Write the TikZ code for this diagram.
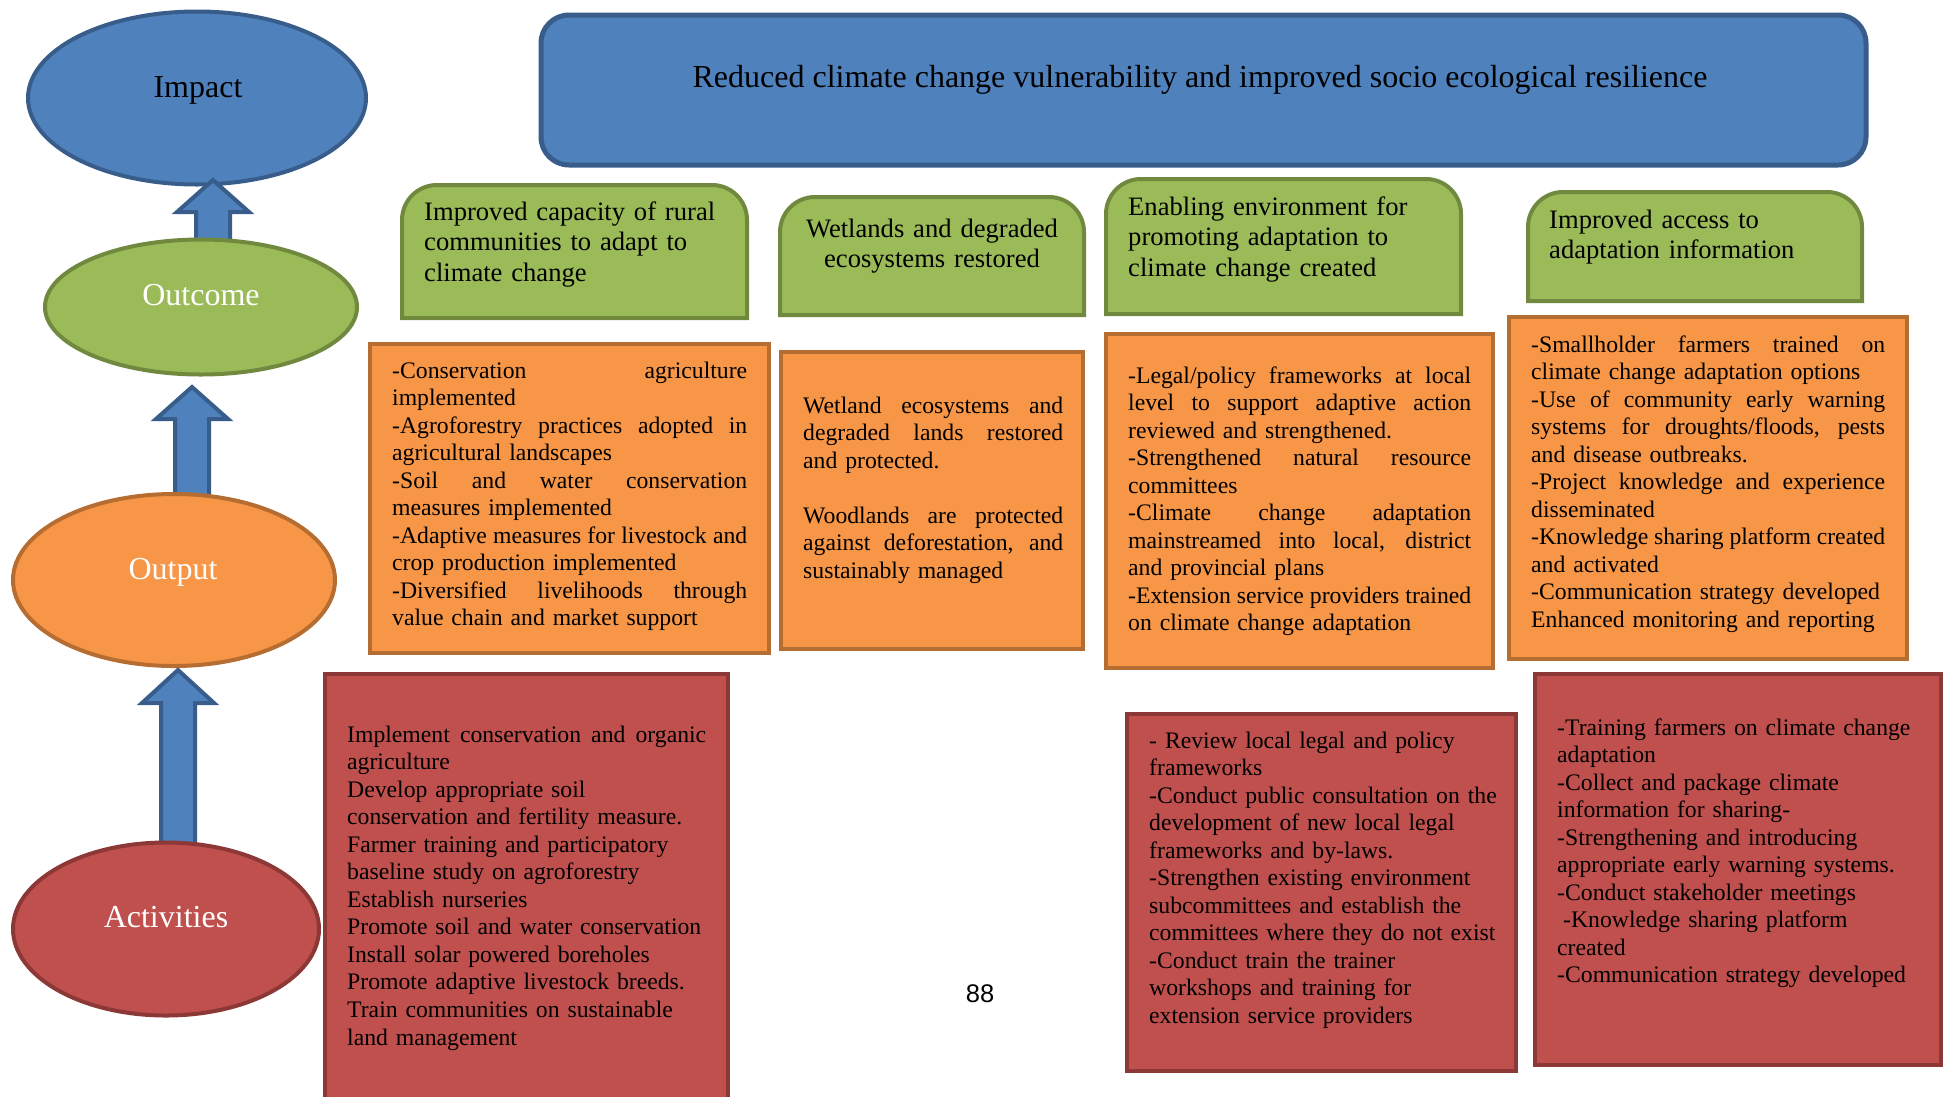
\documentclass[tikz,border=0pt]{standalone}
\usepackage{fontspec}
\setmainfont{Liberation Serif}
\newfontfamily\arialfont{Liberation Sans}
\usetikzlibrary{shapes.geometric}
\definecolor{bfill}{HTML}{4F81BD}
\definecolor{bline}{HTML}{385D8A}
\definecolor{gfill}{HTML}{9BBB59}
\definecolor{gline}{HTML}{71893F}
\definecolor{ofill}{HTML}{F79646}
\definecolor{oline}{HTML}{B66D31}
\definecolor{rfill}{HTML}{C0504D}
\definecolor{rline}{HTML}{8C3836}
\def\jw{300pt}
\newcommand\jl[1]{\makebox[\jw][s]{\spaceskip=0pt\xspaceskip=0pt #1}}
\tikzset{
  ebase/.style={ellipse, line width=4pt, inner sep=0pt, outer sep=0pt},
  boxbase/.style={rectangle, line width=4pt, inner sep=0pt, outer sep=0pt, anchor=north west},
  obox/.style={boxbase, fill=ofill, draw=oline},
  rbox/.style={boxbase, fill=rfill, draw=rline},
  gbox/.style={fill=gfill, draw=gline, line width=4pt},
  bodytext/.style={inner sep=0pt, anchor=base west, align=left, font={\fontsize{23.7}{27.55}\selectfont}},
  headtext/.style={inner sep=0pt, anchor=base west, align=left, text width=340, font={\fontsize{26.6}{30.8}\selectfont}},
  elab/.style={inner sep=0pt, anchor=base, font={\fontsize{32}{38}\selectfont}},
  blockarrow/.style={fill=bfill, draw=bline, line width=4pt, line join=miter},
}
\newcommand\boxat[6]{\node[#1, minimum width={#4-#2-4}, minimum height={#5-#3-4}] (#6) at ({#2+2},{#3+2}) {};}
\newcommand\gshape[4]{\draw[gbox] ({#1+2},{#4-2}) -- ({#1+2},{#2+37}) arc[start angle=180,end angle=270,radius=35] -- ({#3-37},{#2+2}) arc[start angle=270,end angle=360,radius=35] -- ({#3-2},{#4-2}) -- cycle;}
\newcommand\uparr[4]{\draw[blockarrow] ({#1-17},#4) -- ({#1-17},#3) -- ({#1-36},#3) -- (#1,#2) -- ({#1+36},#3) -- ({#1+17},#3) -- ({#1+17},#4) -- cycle;}
\begin{document}
\begin{tikzpicture}[x=1pt,y=-1pt]
\useasboundingbox (0,0) rectangle (1950,1096);
\clip (0,0) rectangle (1950,1096);
\fill[white] (0,0) rectangle (1950,1096);

% top banner
\node[rectangle, rounded corners=28pt, fill=bfill, draw=bline, line width=5pt,
      anchor=north west, minimum width=1325, minimum height=150, inner sep=0pt] (banner) at (538.5,12.5) {};
\node[inner sep=0pt, anchor=base, font={\fontsize{32}{38}\selectfont}] (bannert) at (1200,87)
  {Reduced climate change vulnerability and improved socio ecological resilience};

% green outcome boxes
\gshape{400}{183}{749}{320}
\gshape{778}{195}{1086}{317}
\gshape{1104}{177}{1463}{316}
\gshape{1526}{190}{1864}{303}
\node[headtext] (g1) at (424,220) {Improved capacity of rural\\communities to adapt to\\climate change};
\node[headtext, anchor=base, align=center, text width=300] (g2) at (932,237) {Wetlands and degraded\\ecosystems restored};
\node[headtext] (g3) at (1128,215) {Enabling environment for\\promoting adaptation to\\climate change created};
\node[headtext] (g4) at (1549,228) {Improved access to\\adaptation information};

% orange output boxes
\boxat{obox}{368}{342}{771}{655}{o1}
\boxat{obox}{779}{350}{1085}{651}{o2}
\boxat{obox}{1104}{332}{1495}{670}{o3}
\boxat{obox}{1507}{315}{1909}{661}{o4}

\node[bodytext, text width=355] (o1t) at (392,378) {\def\jw{355pt}%
\jl{-Conservation agriculture}\\
implemented\\
\jl{-Agroforestry practices adopted in}\\
agricultural landscapes\\
\jl{-Soil and water conservation}\\
measures implemented\\
\jl{-Adaptive measures for livestock and}\\
crop production implemented\\
\jl{-Diversified livelihoods through}\\
value chain and market support};

\node[bodytext, text width=260] (o2t) at (803,413) {\def\jw{260pt}%
\jl{Wetland ecosystems and}\\
\jl{degraded lands restored}\\
and protected.\\[27.55pt]
\jl{Woodlands are protected}\\
\jl{against deforestation, and}\\
sustainably managed};

\node[bodytext, text width=343] (o3t) at (1128,383) {\def\jw{343pt}%
\jl{-Legal/policy frameworks at local}\\
\jl{level to support adaptive action}\\
reviewed and strengthened.\\
\jl{-Strengthened natural resource}\\
committees\\
\jl{-Climate change adaptation}\\
\jl{mainstreamed into local, district}\\
and provincial plans\\
\jl{-Extension service providers trained}\\
on climate change adaptation};

\node[bodytext, text width=354] (o4t) at (1531,352) {\def\jw{354pt}%
\jl{-Smallholder farmers trained on}\\
climate change adaptation options\\
\jl{-Use of community early warning}\\
\jl{systems for droughts/floods, pests}\\
and disease outbreaks.\\
\jl{-Project knowledge and experience}\\
disseminated\\
\jl{-Knowledge sharing platform created}\\
and activated\\
-Communication strategy developed\\
Enhanced monitoring and reporting};

% red activity boxes
\boxat{rbox}{323}{672}{730}{1120}{r1}
\boxat{rbox}{1125}{712}{1518}{1073}{r2}
\boxat{rbox}{1533}{672}{1943}{1067}{r3}

\node[bodytext, text width=359] (r1t) at (347,742) {\def\jw{359pt}%
\jl{Implement conservation and organic}\\
agriculture\\
Develop appropriate soil\\
conservation and fertility measure.\\
Farmer training and participatory\\
baseline study on agroforestry\\
Establish nurseries\\
Promote soil and water conservation\\
Install solar powered boreholes\\
Promote adaptive livestock breeds.\\
Train communities on sustainable\\
land management};

\node[bodytext, text width=365] (r2t) at (1149,748) {%
- Review local legal and policy\\
frameworks\\
-Conduct public consultation on the\\
development of new local legal\\
frameworks and by-laws.\\
-Strengthen existing environment\\
subcommittees and establish the\\
committees where they do not exist\\
-Conduct train the trainer\\
workshops and training for\\
extension service providers};

\node[bodytext, text width=375] (r3t) at (1557,735) {%
-Training farmers on climate change\\
adaptation\\
-Collect and package climate\\
information for sharing-\\
-Strengthening and introducing\\
appropriate early warning systems.\\
-Conduct stakeholder meetings\\
\hspace*{6pt}-Knowledge sharing platform\\
created\\
-Communication strategy developed};

% left column: ellipses and block arrows
\node[ebase, fill=bfill, draw=bline, minimum width=338, minimum height=173] (impact) at (197,98) {};
\node[elab, text=black] (impactl) at (198,97) {Impact};
\uparr{213}{180}{212}{250}
\node[ebase, fill=gfill, draw=gline, minimum width=312, minimum height=135] (outcome) at (201,307) {};
\node[elab, text=white] (outcomel) at (201,305) {Outcome};
\uparr{192}{387}{419}{498}
\node[ebase, fill=ofill, draw=oline, minimum width=322, minimum height=172] (output) at (174,580) {};
\node[elab, text=white] (outputl) at (173,579) {Output};
\uparr{178}{670}{703}{848}
\node[ebase, fill=rfill, draw=rline, minimum width=306, minimum height=173] (activities) at (166,929) {};
\node[elab, text=white] (activitiesl) at (166,927) {Activities};

% page number
\node[inner sep=0pt, anchor=base, font={\arialfont\fontsize{25.5}{30}\selectfont}] (pagenum) at (980,1002) {88};
\end{tikzpicture}
\end{document}
